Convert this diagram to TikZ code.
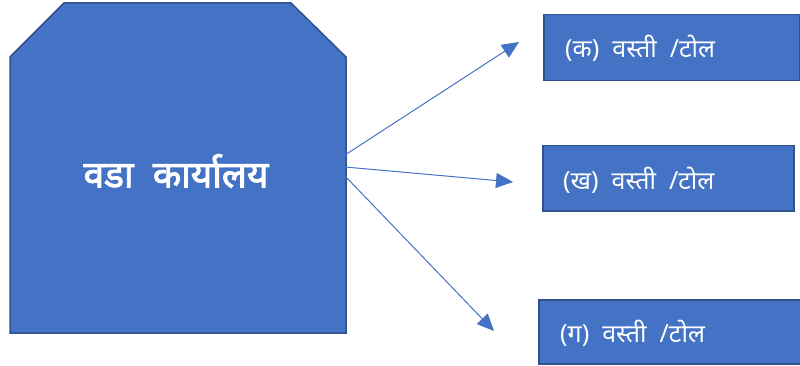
\documentclass[tikz,border=0pt]{standalone}
\usepackage{fontspec}
\newfontfamily\deva[Script=Devanagari]{Noto Sans}
\newfontfamily\devabold[Script=Devanagari,FakeBold=2.5]{Noto Sans}
\usetikzlibrary{arrows.meta}
\definecolor{C0}{RGB}{68,114,196}
\definecolor{C1}{RGB}{47,82,143}

\tikzset{
  office/.style={fill=C0, draw=C1, line width=1.5pt, line join=miter},
  hamlet/.style={rectangle, fill=C0, draw=C1, line width=1.5pt, inner sep=0pt, anchor=north west},
  hamlettext/.style={anchor=west, text=white, inner sep=0pt, font=\deva\fontsize{25}{28}\selectfont},
  link/.style={draw=C0, line width=1pt, -{Triangle[length=17pt,width=15pt]}}
}

\begin{document}
\begin{tikzpicture}[x=1pt,y=-1pt]
  \useasboundingbox (0,0) rectangle (800,366);

  % Head office block, top corners cut off.
  \draw[office] (10,57) -- (64,3) -- (291,3) -- (346,57) -- (346,333) -- (10,333) -- cycle;
  \node[text=white, font=\devabold\fontsize{37}{40}\selectfont] (officetext) at (176,171) {वडा~ कार्यालय};

  % Hamlet boxes.
  \node[hamlet, minimum width=256pt, minimum height=66pt] (ka) at (543,14) {};
  \node[hamlettext] (katext) at (565,48) {(क)~ वस्ती~ /टोल};

  \node[hamlet, minimum width=251pt, minimum height=65pt] (kha) at (542,145) {};
  \node[hamlettext] (khatext) at (563,180) {(ख)~ वस्ती~ /टोल};

  \node[hamlet, minimum width=264pt, minimum height=64pt] (ga) at (538,299) {};
  \node[hamlettext] (gatext) at (560,333) {(ग)~ वस्ती~ /टोल};

  % Arrows to the hamlets.
  \coordinate (kastart) at (345,155);
  \coordinate (khastart) at (345,167);
  \coordinate (gastart) at (345,176);
  \coordinate (kaend) at (519,42);
  \coordinate (khaend) at (513,182);
  \coordinate (gaend) at (494,331);
  \draw[link] (kastart) -- (kaend);
  \draw[link] (khastart) -- (khaend);
  \draw[link] (gastart) -- (gaend);

\end{tikzpicture}
\end{document}
